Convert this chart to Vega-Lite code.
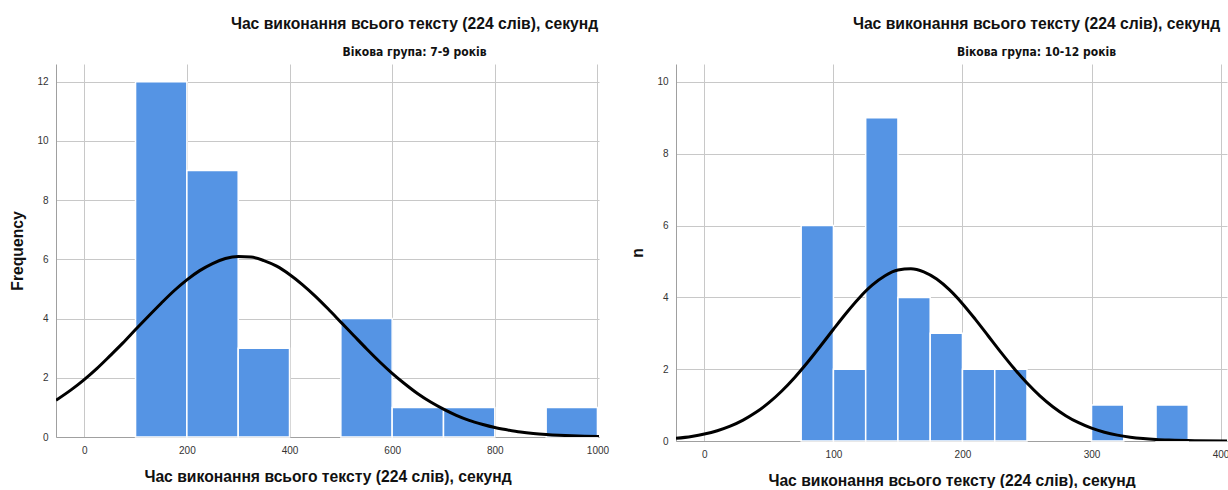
{
  "$schema": "https://vega.github.io/schema/vega-lite/v6.json",
  "background": "white",
  "padding": {"left": 9, "top": 16, "right": 0, "bottom": 0},
  "bounds": "flush",
  "spacing": 77,
  "datasets": {
    "bins_7_9": [
      {"lo": 100, "hi": 200, "n": 12},
      {"lo": 200, "hi": 300, "n": 9},
      {"lo": 300, "hi": 400, "n": 3},
      {"lo": 500, "hi": 600, "n": 4},
      {"lo": 600, "hi": 700, "n": 1},
      {"lo": 700, "hi": 800, "n": 1},
      {"lo": 900, "hi": 1000, "n": 1}
    ],
    "curve_7_9": [
      {"t": -55, "f": 1.24}, {"t": -25, "f": 1.60}, {"t": 0, "f": 1.94}, {"t": 25, "f": 2.32},
      {"t": 50, "f": 2.74}, {"t": 75, "f": 3.17}, {"t": 100, "f": 3.63}, {"t": 125, "f": 4.08},
      {"t": 150, "f": 4.52}, {"t": 175, "f": 4.94}, {"t": 200, "f": 5.31}, {"t": 225, "f": 5.62},
      {"t": 250, "f": 5.86}, {"t": 275, "f": 6.03}, {"t": 300, "f": 6.10}, {"t": 325, "f": 6.08},
      {"t": 350, "f": 5.96}, {"t": 375, "f": 5.77}, {"t": 400, "f": 5.49}, {"t": 425, "f": 5.15},
      {"t": 450, "f": 4.76}, {"t": 475, "f": 4.33}, {"t": 500, "f": 3.88}, {"t": 525, "f": 3.43},
      {"t": 550, "f": 2.98}, {"t": 575, "f": 2.55}, {"t": 600, "f": 2.15}, {"t": 625, "f": 1.79},
      {"t": 650, "f": 1.46}, {"t": 675, "f": 1.18}, {"t": 700, "f": 0.94}, {"t": 725, "f": 0.73},
      {"t": 750, "f": 0.56}, {"t": 775, "f": 0.43}, {"t": 800, "f": 0.32}, {"t": 825, "f": 0.24},
      {"t": 850, "f": 0.17}, {"t": 875, "f": 0.12}, {"t": 900, "f": 0.085}, {"t": 925, "f": 0.059},
      {"t": 950, "f": 0.040}, {"t": 975, "f": 0.027}, {"t": 1003, "f": 0.017}
    ],
    "bins_10_12": [
      {"lo": 75, "hi": 100, "n": 6},
      {"lo": 100, "hi": 125, "n": 2},
      {"lo": 125, "hi": 150, "n": 9},
      {"lo": 150, "hi": 175, "n": 4},
      {"lo": 175, "hi": 200, "n": 3},
      {"lo": 200, "hi": 225, "n": 2},
      {"lo": 225, "hi": 250, "n": 2},
      {"lo": 300, "hi": 325, "n": 1},
      {"lo": 350, "hi": 375, "n": 1}
    ],
    "curve_10_12": [
      {"t": -22, "f": 0.074}, {"t": -10, "f": 0.127}, {"t": 0, "f": 0.193}, {"t": 10, "f": 0.286},
      {"t": 20, "f": 0.413}, {"t": 30, "f": 0.582}, {"t": 40, "f": 0.798}, {"t": 50, "f": 1.068},
      {"t": 60, "f": 1.393}, {"t": 70, "f": 1.770}, {"t": 80, "f": 2.192}, {"t": 90, "f": 2.646},
      {"t": 100, "f": 3.112}, {"t": 110, "f": 3.567}, {"t": 120, "f": 3.985}, {"t": 130, "f": 4.339},
      {"t": 140, "f": 4.604}, {"t": 150, "f": 4.761}, {"t": 160, "f": 4.798}, {"t": 170, "f": 4.712},
      {"t": 180, "f": 4.510}, {"t": 190, "f": 4.207}, {"t": 200, "f": 3.825}, {"t": 210, "f": 3.388},
      {"t": 220, "f": 2.925}, {"t": 230, "f": 2.461}, {"t": 240, "f": 2.018}, {"t": 250, "f": 1.613},
      {"t": 260, "f": 1.257}, {"t": 270, "f": 0.954}, {"t": 280, "f": 0.706}, {"t": 290, "f": 0.509},
      {"t": 300, "f": 0.357}, {"t": 310, "f": 0.245}, {"t": 320, "f": 0.163}, {"t": 330, "f": 0.106},
      {"t": 340, "f": 0.067}, {"t": 350, "f": 0.041}, {"t": 360, "f": 0.025}, {"t": 380, "f": 0.008},
      {"t": 405, "f": 0.002}
    ]
  },
  "config": {
    "view": {"stroke": null},
    "font": "Liberation Sans",
    "axis": {
      "domainColor": "#a0a0a0",
      "gridColor": "#c8c8c8",
      "gridWidth": 1,
      "ticks": false,
      "labelFont": "Liberation Sans",
      "labelFontSize": 10,
      "labelColor": "#333333",
      "titleFont": "Liberation Sans",
      "titleFontSize": 15.7,
      "titleFontWeight": "bold",
      "titleColor": "#111111",
      "labelPadding": 8
    },
    "title": {
      "font": "Liberation Sans",
      "fontSize": 15.7,
      "fontWeight": "bold",
      "color": "#111111",
      "subtitleFont": "DejaVu Sans Condensed",
      "subtitleFontSize": 12,
      "subtitleFontWeight": "bold",
      "subtitleColor": "#111111",
      "subtitlePadding": 14,
      "anchor": "middle",
      "offset": 5
    }
  },
  "hconcat": [
    {
      "width": 543,
      "height": 373,
      "title": {"text": "Час виконання всього тексту (224 слів), секунд", "subtitle": "Вікова група: 7-9 років", "dx": 87},
      "layer": [
        {
          "data": {"name": "bins_7_9"},
          "mark": {"type": "bar", "color": "#5594e4", "stroke": "white", "strokeWidth": 1.5},
          "encoding": {
            "x": {"field": "lo", "type": "quantitative",
                  "scale": {"domain": [-55, 1003], "nice": false, "zero": false},
                  "axis": {"values": [0, 200, 400, 600, 800, 1000], "format": "d", "title": "Час виконання всього тексту (224 слів), секунд", "titlePadding": 14}},
            "x2": {"field": "hi"},
            "y": {"field": "n", "type": "quantitative",
                  "scale": {"domain": [0, 12.6], "nice": false},
                  "axis": {"values": [0, 2, 4, 6, 8, 10, 12], "title": "Frequency", "titlePadding": 11}},
            "y2": {"datum": 0}
          }
        },
        {
          "data": {"name": "curve_7_9"},
          "mark": {"type": "line", "color": "black", "strokeWidth": 3, "interpolate": "monotone", "clip": true},
          "encoding": {
            "x": {"field": "t", "type": "quantitative"},
            "y": {"field": "f", "type": "quantitative"}
          }
        }
      ]
    },
    {
      "width": 551,
      "height": 377,
      "title": {"text": "Час виконання всього тексту (224 слів), секунд", "subtitle": "Вікова група: 10-12 років", "dx": 85},
      "layer": [
        {
          "data": {"name": "bins_10_12"},
          "mark": {"type": "bar", "color": "#5594e4", "stroke": "white", "strokeWidth": 1.5},
          "encoding": {
            "x": {"field": "lo", "type": "quantitative",
                  "scale": {"domain": [-22, 405], "nice": false, "zero": false},
                  "axis": {"values": [0, 100, 200, 300, 400], "format": "d", "title": "Час виконання всього тексту (224 слів), секунд", "titlePadding": 14}},
            "x2": {"field": "hi"},
            "y": {"field": "n", "type": "quantitative",
                  "scale": {"domain": [0, 10.5], "nice": false},
                  "axis": {"values": [0, 2, 4, 6, 8, 10], "title": "n", "titlePadding": 11}},
            "y2": {"datum": 0}
          }
        },
        {
          "data": {"name": "curve_10_12"},
          "mark": {"type": "line", "color": "black", "strokeWidth": 3, "interpolate": "monotone", "clip": true},
          "encoding": {
            "x": {"field": "t", "type": "quantitative"},
            "y": {"field": "f", "type": "quantitative"}
          }
        }
      ]
    }
  ]
}
